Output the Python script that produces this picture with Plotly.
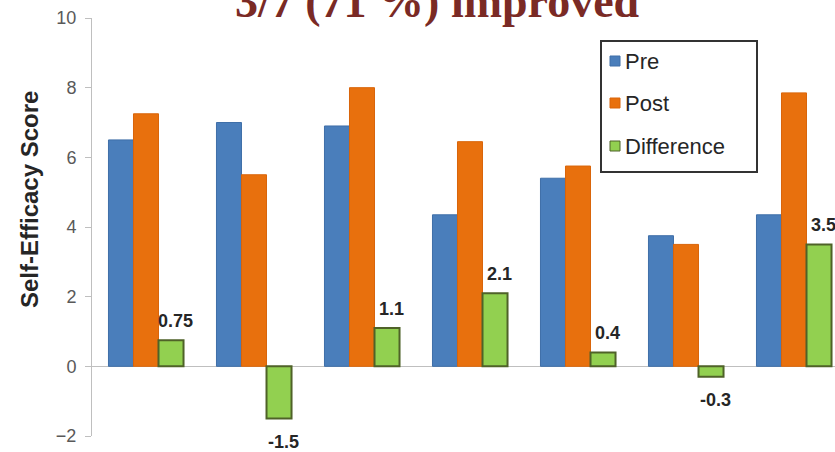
import plotly.graph_objects as go

# Self-efficacy scores for seven participants, before and after the programme
participants = ["P1", "P2", "P3", "P4", "P5", "P6", "P7"]
pre = [6.5, 7.0, 6.9, 4.35, 5.4, 3.75, 4.35]
post = [7.25, 5.5, 8.0, 6.45, 5.75, 3.5, 7.85]
difference = [0.75, -1.5, 1.1, 2.1, 0.4, -0.3, 3.5]
difference_labels = ["0.75", "-1.5", "1.1", "2.1", "0.4", "-0.3", "3.5"]

series_names = ["Pre", "Post", "Difference"]
fill_colors = ["#4a7ebb", "#e8700d", "#92d050"]
line_colors = ["#3f6fa8", "#d9650a", "#4f6228"]
line_widths = [1, 1, 2]

W, H = 835, 452
M_L, M_R, M_T, M_B = 92, 0, 18, 16
PLOT_W = W - M_L - M_R
PLOT_H = H - M_T - M_B
CAT_PX = 108  # pixel width of one participant slot
BARGAP = 0.305

x = list(range(len(participants)))

fig = go.Figure()
for name, vals, fc, lc, lw in zip(series_names, [pre, post, difference],
                                  fill_colors, line_colors, line_widths):
    fig.add_trace(go.Bar(
        x=x, y=vals, name=name,
        marker=dict(color=fc, line=dict(color=lc, width=lw)),
        showlegend=False,
    ))

# value labels on the difference bars
bar_w = (1 - BARGAP) / 3
annotations = []
for i, (v, lab) in enumerate(zip(difference, difference_labels)):
    annotations.append(dict(
        x=i + bar_w, y=v, xref="x", yref="y", text=f"<b>{lab}</b>",
        showarrow=False, xanchor="center", yanchor="middle",
        xshift=4, yshift=19 if v > 0 else -23,
        font=dict(family="Liberation Sans, Arial", size=18, color="#262626"),
    ))


def px_x(p):
    return (p - M_L) / PLOT_W


def px_y(p):
    return 1 - (p - M_T) / PLOT_H


# chart title (partly above the canvas)
annotations.append(dict(
    x=px_x(437), y=1, xref="paper", yref="paper", yanchor="bottom",
    xanchor="center", yshift=-11, showarrow=False,
    text="<b>3/7 (71 %) improved</b>",
    font=dict(family="Liberation Serif, Times New Roman", size=46, color="#7a2a25"),
))

# y-axis title
annotations.append(dict(
    x=px_x(30), y=px_y(200), xref="paper", yref="paper",
    xanchor="center", yanchor="middle", textangle=-90, showarrow=False,
    text="<b>Self-Efficacy Score</b>",
    font=dict(family="Liberation Sans, Arial", size=24, color="#262626"),
))

# legend box
shapes = [dict(
    type="rect", xref="paper", yref="paper",
    x0=px_x(601), x1=px_x(757), y0=px_y(172), y1=px_y(41),
    line=dict(color="#333333", width=2), fillcolor="white", layer="above",
)]
legend_rows = [61, 103, 146]
for name, fc, lc, yc in zip(series_names, fill_colors, line_colors, legend_rows):
    shapes.append(dict(
        type="rect", xref="paper", yref="paper",
        x0=px_x(610), x1=px_x(620), y0=px_y(yc + 5), y1=px_y(yc - 5),
        line=dict(color=lc, width=1), fillcolor=fc, layer="above",
    ))
    annotations.append(dict(
        x=px_x(623), y=px_y(yc), xref="paper", yref="paper",
        xanchor="left", yanchor="middle", showarrow=False, text=name,
        font=dict(family="Liberation Sans, Arial", size=22, color="#262626"),
    ))

fig.update_layout(
    width=W, height=H,
    margin=dict(l=M_L, r=M_R, t=M_T, b=M_B, autoexpand=False),
    paper_bgcolor="white", plot_bgcolor="white",
    barmode="group", bargap=BARGAP, bargroupgap=0,
    showlegend=False,
    annotations=annotations, shapes=shapes,
)
fig.update_xaxes(
    range=[-0.5, PLOT_W / CAT_PX - 0.5],
    showticklabels=False, showgrid=False, zeroline=False, showline=False,
    ticks="",
)
fig.update_yaxes(
    range=[-2, 10], dtick=2, tick0=0,
    showgrid=False, showline=True, linecolor="#bfbfbf", linewidth=1,
    ticks="outside", ticklen=6, tickcolor="#bfbfbf",
    zeroline=True, zerolinecolor="#bfbfbf", zerolinewidth=1,
    tickfont=dict(family="Liberation Sans, Arial", size=18, color="#595959"),
    ticklabelstandoff=5,
)

fig.write_html("out.html")
